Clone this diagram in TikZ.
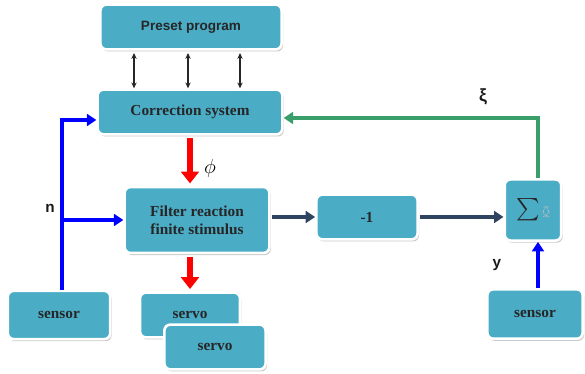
\documentclass[tikz,border=0pt]{standalone}
\usepackage{fontspec}
\setmainfont{Liberation Serif}
\newfontfamily\labelsans{Liberation Sans}
\usetikzlibrary{arrows.meta, positioning, shadows, calc}
\definecolor{boxblue}{RGB}{75, 172, 198}
\definecolor{linknavy}{RGB}{46, 68, 96}
\definecolor{fbgreen}{RGB}{58, 158, 106}
\definecolor{sigblue}{RGB}{0, 0, 255}
\definecolor{stepred}{RGB}{255, 0, 0}

\tikzset{
    blockbox/.style={draw=white, line width=2.2pt, fill=boxblue, rounded corners=5pt,
        drop shadow={shadow xshift=1.2pt, shadow yshift=-1.8pt, fill=black!35, opacity=0.6},
        font=\fontsize{13}{15.5}\selectfont\bfseries, text=black!85, align=center, inner sep=2pt},
    dbl/.style={{Stealth[length=5pt,width=4.5pt]}-{Stealth[length=5pt,width=4.5pt]}, black!85, line width=1pt},
    redarrow/.style={-{Triangle[length=10pt,width=15pt]}, stepred, line width=5.5pt},
    navyarrow/.style={-{Triangle[length=8pt,width=10pt]}, linknavy, line width=3.2pt},
    bluearrow/.style={-{Triangle[length=8pt,width=10pt]}, sigblue, line width=3.2pt},
    greenarrow/.style={-{Triangle[length=8pt,width=10pt]}, fbgreen, line width=3.2pt},
    sigtext/.style={font=\labelsans\bfseries\fontsize{13}{15}\selectfont, text=black!90}
}

\begin{document}
\begin{tikzpicture}[x=0.85pt, y=-0.85pt]
    \useasboundingbox (0,0) rectangle (585,374);

    % blocks
    \node[blockbox, minimum width=154pt, minimum height=38pt, font=\labelsans\bfseries\fontsize{11.5}{13}\selectfont] (preset) at (191,27) {Preset program};
    \node[blockbox, minimum width=157pt, minimum height=38pt] (corr) at (190,112) {Correction system};
    \node[blockbox, minimum width=123pt, minimum height=56pt] (filter) at (197,220) {Filter reaction\\finite stimulus};
    \node[blockbox, minimum width=86pt, minimum height=38pt] (minus) at (367,217) {-1};
    \node[blockbox, minimum width=48pt, minimum height=52pt] (sum) at (533,210)
        {\scalebox{1.9}{$\sum$}\,\tikz\draw[black!25, densely dotted, line width=0.7pt] (0,0) rectangle (5pt,8pt);};
    \node[blockbox, minimum width=87pt, minimum height=41pt] (sensorL) at (59,315) {sensor};
    \node[blockbox, minimum width=81pt, minimum height=42pt] (sensorR) at (535,314) {sensor};
    \node[blockbox, minimum width=85pt, minimum height=38pt] (servoA) at (190,315) {servo};
    \node[blockbox, minimum width=86pt, minimum height=38pt] (servoB) at (215,347) {servo};

    % preset <-> correction
    \foreach \xx in {134,188,240}
        \draw[dbl, shorten <=2pt] (preset.south -| \xx,0) -- (corr.north -| \xx,0);

    % main path
    \draw[redarrow, shorten <=2pt, shorten >=2pt] (corr.south) -- (corr.south |- filter.north);
    \draw[redarrow, shorten <=2pt, shorten >=2pt] (filter.south -| servoA) -- (servoA.north);
    \draw[navyarrow, shorten <=1pt] (filter.east |- minus) -- (minus.west);
    \draw[navyarrow, shorten <=1pt] (minus.east) -- (minus.east -| sum.west);

    % feedback
    \coordinate (fbtop) at ($(sum.north)+(5,0)$);
    \draw[greenarrow] (fbtop) |- ($(corr.east)+(0,6)$);
    \coordinate (nline) at (62,0);
    \draw[bluearrow] (sensorL.north -| nline) |- ($(corr.west)+(0,8)$);
    \draw[bluearrow] (nline |- filter.west) -- (filter.west);
    \draw[bluearrow] (sensorR.north -| fbtop) -- (sum.south -| fbtop);

    % labels
    \node[font=\fontsize{17}{19}\selectfont] (phi) at (210,168) {$\phi$};
    \node[sigtext, font=\labelsans\bfseries\fontsize{15}{17}\selectfont] (xi) at (483,97) {ξ};
    \node[sigtext] (nlab) at (50,208) {n};
    \node[sigtext] (ylab) at (497,265) {y};
\end{tikzpicture}
\end{document}
